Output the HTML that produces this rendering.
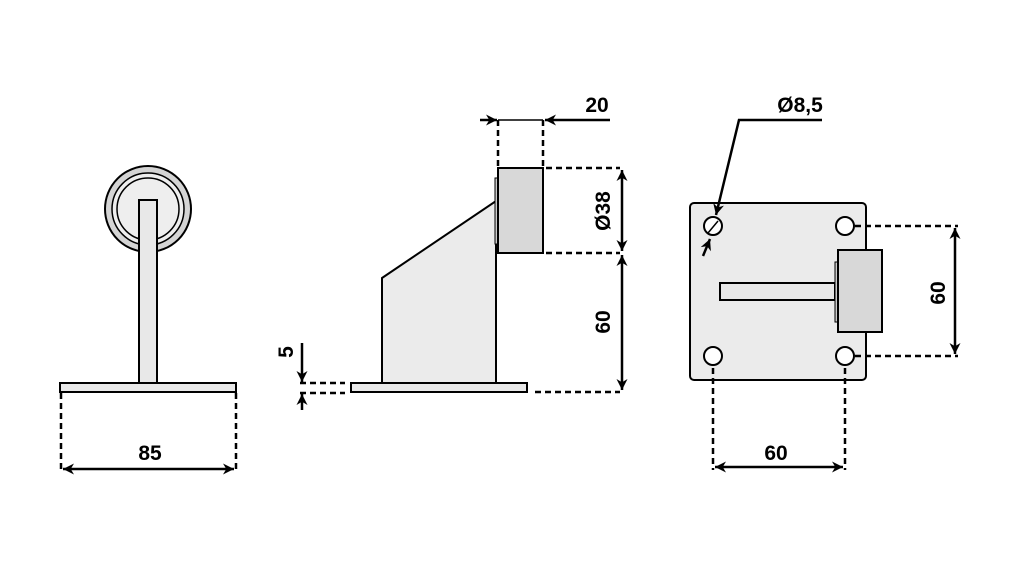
<!DOCTYPE html>
<html><head><style>body{margin:0;background:#fff}svg{display:block}text{font-family:"Liberation Sans Narrow","Liberation Sans",sans-serif;font-size:21px;font-weight:bold;fill:#000}</style></head>
<body>
<svg width="1021" height="567" viewBox="0 0 1021 567" xmlns="http://www.w3.org/2000/svg">
<defs>
<marker id="a" viewBox="0 0 10 10" refX="10" refY="5" markerWidth="13" markerHeight="11" orient="auto-start-reverse" markerUnits="userSpaceOnUse"><path d="M0,0 L10,5 L0,10 L3,5 z" fill="#000"/></marker>
</defs>
<g stroke="#000" stroke-width="2">
<!-- left view -->
<circle cx="148" cy="209" r="43" fill="#d4d4d4"/>
<circle cx="148" cy="209" r="36" fill="#eee" stroke-width="1.5"/>
<circle cx="148" cy="209" r="31" fill="#eee" stroke-width="1.5"/>
<rect x="139" y="200" width="18" height="183" fill="#e8e8e8"/>
<rect x="60" y="383" width="176" height="9" fill="#e8e8e8"/>
<g stroke-dasharray="6,4" stroke-width="2.5"><line x1="61" y1="393" x2="61" y2="470"/><line x1="236" y1="393" x2="236" y2="470"/></g>
<g stroke-width="2.5">
<line x1="63" y1="469" x2="234" y2="469" marker-start="url(#a)" marker-end="url(#a)"/>
</g>
<!-- middle view -->
<rect x="351" y="383" width="176" height="9" fill="#e8e8e8"/>
<polygon points="382,278 496,201 496,383 382,383" fill="#ebebeb"/>
<rect x="495" y="178" width="3" height="66" fill="#ccc" stroke-width="1"/>
<rect x="498" y="168" width="45" height="85" fill="#d8d8d8"/>
<g stroke-dasharray="6,4" stroke-width="2.5"><line x1="498" y1="120" x2="498" y2="167"/><line x1="543" y1="120" x2="543" y2="167"/>
<line x1="546" y1="168" x2="620" y2="168"/><line x1="546" y1="253" x2="620" y2="253"/><line x1="535" y1="392" x2="620" y2="392"/>
<line x1="300" y1="383" x2="345" y2="383"/><line x1="300" y1="393" x2="345" y2="393"/></g>
<g stroke-width="2.5">
<line x1="480" y1="120" x2="497" y2="120" marker-end="url(#a)"/>
<line x1="610" y1="120" x2="545" y2="120" marker-end="url(#a)"/>
<line x1="622" y1="170" x2="622" y2="251" marker-start="url(#a)" marker-end="url(#a)"/>
<line x1="622" y1="255" x2="622" y2="390" marker-start="url(#a)" marker-end="url(#a)"/>
<line x1="302" y1="343" x2="302" y2="382" marker-end="url(#a)"/>
<line x1="302" y1="410" x2="302" y2="394" marker-end="url(#a)"/>
</g>
<line x1="498" y1="120" x2="543" y2="120" stroke-width="1.5"/>
<!-- right view -->
<rect x="690" y="203" width="176" height="177" rx="4" fill="#ebebeb"/>
<g fill="#fff"><circle cx="713" cy="226" r="9"/><circle cx="845" cy="226" r="9"/><circle cx="713" cy="356" r="9"/><circle cx="845" cy="356" r="9"/></g>
<rect x="720" y="283" width="115" height="17" fill="#e8e8e8"/>
<rect x="835" y="262" width="3" height="60" fill="#ccc" stroke-width="1"/>
<rect x="838" y="250" width="44" height="82" fill="#d8d8d8"/>
<g stroke-dasharray="6,4" stroke-width="2.5"><line x1="855" y1="226" x2="958" y2="226"/><line x1="855" y1="356" x2="958" y2="356"/>
<line x1="713" y1="368" x2="713" y2="470"/><line x1="845" y1="368" x2="845" y2="470"/></g>
<g stroke-width="2.5">
<line x1="955" y1="228" x2="955" y2="354" marker-start="url(#a)" marker-end="url(#a)"/>
<line x1="715" y1="467" x2="843" y2="467" marker-start="url(#a)" marker-end="url(#a)"/>
<polyline points="822,120 739,120 716,215" fill="none" marker-end="url(#a)"/>
<line x1="703" y1="256" x2="710" y2="239" marker-end="url(#a)"/>
</g>
<line x1="708" y1="233" x2="718" y2="221" stroke-width="1.5"/>
</g>
<text x="150" y="460" text-anchor="middle">85</text>
<text x="597" y="112" text-anchor="middle">20</text>
<text x="800" y="112" text-anchor="middle">Ø8,5</text>
<text x="776" y="460" text-anchor="middle">60</text>
<text transform="translate(610,211) rotate(-90)" text-anchor="middle">Ø38</text>
<text transform="translate(610,322) rotate(-90)" text-anchor="middle">60</text>
<text transform="translate(293,352) rotate(-90)" text-anchor="middle">5</text>
<text transform="translate(945,293) rotate(-90)" text-anchor="middle">60</text>
</svg>
</body></html>
